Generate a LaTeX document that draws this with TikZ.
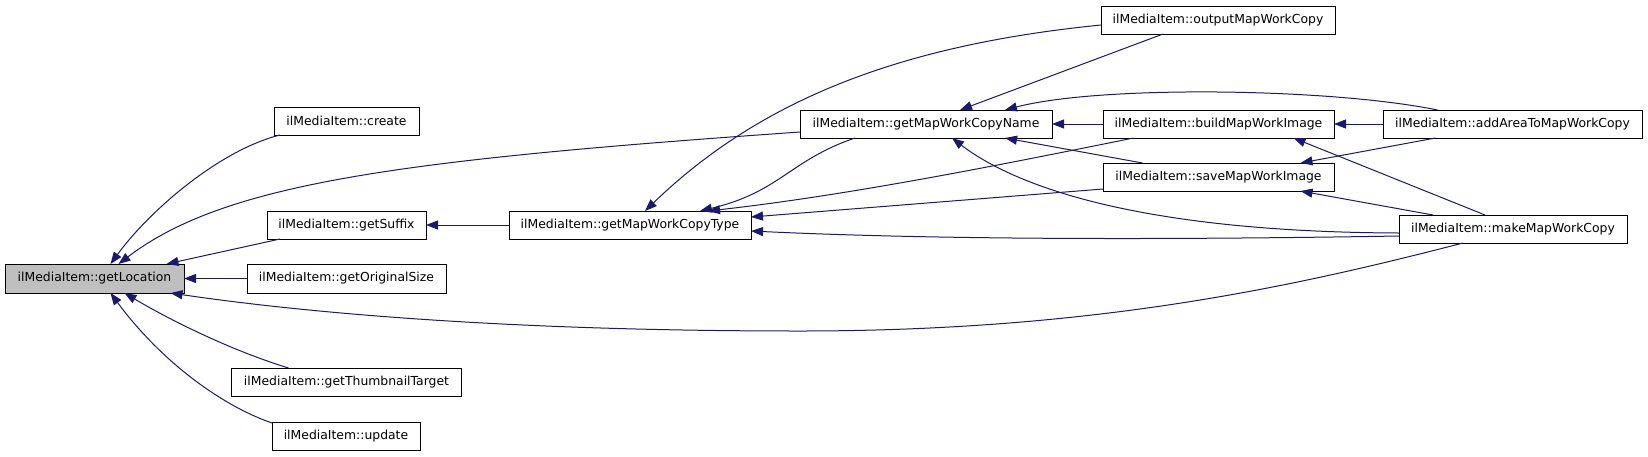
\documentclass[tikz,border=0pt]{standalone}
\usepackage{fontspec}
\setmainfont{DejaVu Sans}
\usetikzlibrary{arrows.meta,calc}
\definecolor{navy}{RGB}{25,25,112}
\definecolor{focusgray}{RGB}{191,191,191}
\begin{document}
\begin{tikzpicture}[x=1pt,y=-1pt,
  fn/.style={draw=black, line width=1pt, fill=white, minimum height=28pt, inner sep=0pt, outer sep=0pt,
    font=\fontsize{12.4}{14}\selectfont, anchor=center},
  callarrow/.style={draw=navy, line width=1pt, -{Triangle[length=12pt,width=9pt]}, fill=none}]
\useasboundingbox (0,0) rectangle (1648,456);
% nodes
\node[fn, fill=focusgray, minimum width=179pt, minimum height=29pt] (loc) at (94.5,278.5) {ilMediaItem::getLocation};
\node[fn, minimum width=145pt] (create) at (346.5,121) {ilMediaItem::create};
\node[fn, minimum width=159pt] (suffix) at (346.5,225) {ilMediaItem::getSuffix};
\node[fn, minimum width=199pt, minimum height=29pt] (orig) at (346.5,278.5) {ilMediaItem::getOriginalSize};
\node[fn, minimum width=230pt] (thumb) at (346.5,382) {ilMediaItem::getThumbnailTarget};
\node[fn, minimum width=148pt] (update) at (346,436) {ilMediaItem::update};
\node[fn, minimum width=242pt] (type) at (630,225) {ilMediaItem::getMapWorkCopyType};
\node[fn, minimum width=252pt] (name) at (926,124) {ilMediaItem::getMapWorkCopyName};
\node[fn, minimum width=234pt] (out) at (1218,20) {ilMediaItem::outputMapWorkCopy};
\node[fn, minimum width=231pt] (build) at (1218.5,124) {ilMediaItem::buildMapWorkImage};
\node[fn, minimum width=231pt] (save) at (1218.5,177) {ilMediaItem::saveMapWorkImage};
\node[fn, minimum width=259pt] (addarea) at (1512.5,124) {ilMediaItem::addAreaToMapWorkCopy};
\node[fn, minimum width=228pt] (make) at (1513,229) {ilMediaItem::makeMapWorkCopy};
% edges into getLocation
\draw[callarrow] ($(create.south west)+(6,0)$) .. controls (220,150) and (150,210) .. ($(loc.north)+(16,0)$);
\draw[callarrow] ($(name.west)+(0,8)$) .. controls (400,160) and (225,183) .. ($(loc.north)+(24,0)$);
\draw[callarrow] ($(suffix.south west)+(13,0)$) -- ($(loc.north)+(72,0)$);
\draw[callarrow] (orig) -- (loc);
\draw[callarrow] ($(make.south)+(-50,0)$) .. controls (1300,285) and (1100,331) .. (800,331)
  .. controls (500,331) and (300,312) .. ($(loc.south)+(76,0)$);
\draw[callarrow] ($(thumb.north)+(-58,0)$) .. controls (230,350) and (170,320) .. ($(loc.south)+(30,0)$);
\draw[callarrow] ($(update.north west)+(0,1)$) .. controls (220,405) and (160,360) .. ($(loc.south)+(16,0)$);
% into getSuffix
\draw[callarrow] (type) -- (suffix);
% into getMapWorkCopyType
\draw[callarrow] ($(out.west)+(0,5)$) .. controls (900,45) and (760,100) .. ($(type.north)+(15,0)$);
\draw[callarrow] ($(name.south)+(-71,0)$) .. controls (790,160) and (780,192) .. ($(type.north)+(70,0)$);
\draw[callarrow] ($(build.south)+(-85,0)$) .. controls (1000,165) and (850,195) .. ($(type.north)+(78,0)$);
\draw[callarrow] ($(save.west)+(0,12)$) -- ($(type.east)+(0,-8)$);
\draw[callarrow] ($(make.west)+(0,7)$) .. controls (1100,241) and (900,238) .. ($(type.east)+(0,6)$);
% into getMapWorkCopyName
\draw[callarrow] ($(out.south)+(-55,0)$) -- ($(name.north)+(34,0)$);
\draw[callarrow] ($(addarea.north)+(-75,0)$) .. controls (1330,88) and (1100,85) .. ($(name.north)+(79,0)$);
\draw[callarrow] (build) -- (name);
\draw[callarrow] ($(save.north)+(-76,0)$) -- ($(name.south)+(79,0)$);
\draw[callarrow] ($(make.west)+(0,4)$) .. controls (1150,232) and (1020,190) .. ($(name.south)+(26,0)$);
% into buildMapWorkImage
\draw[callarrow] (addarea) -- (build);
\draw[callarrow] ($(make.north)+(-28,0)$) -- ($(build.south)+(75,0)$);
% into saveMapWorkImage
\draw[callarrow] ($(addarea.south)+(-77,0)$) -- ($(save.north)+(82,0)$);
\draw[callarrow] ($(make.north)+(-80,0)$) -- ($(save.south)+(82,0)$);
\end{tikzpicture}
\end{document}
